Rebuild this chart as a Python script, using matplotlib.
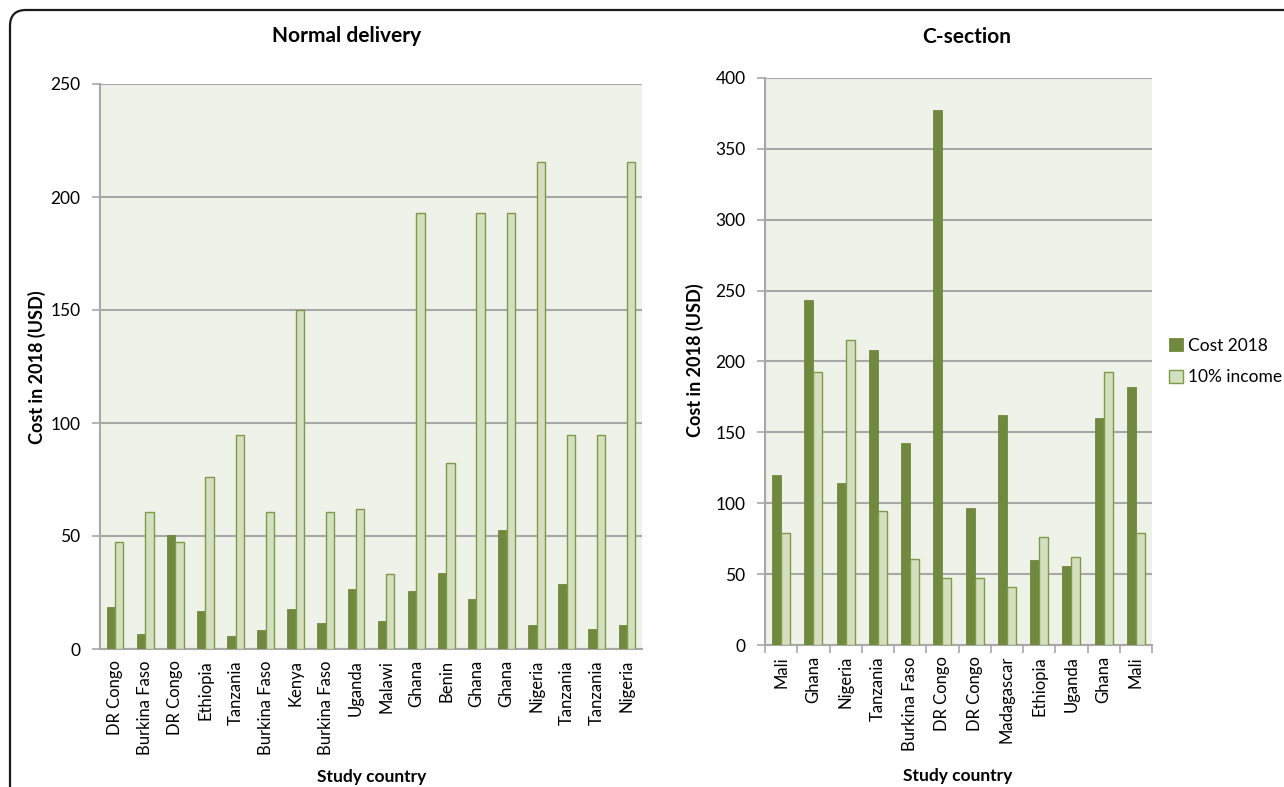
import matplotlib
matplotlib.use("Agg")
import numpy as np
import matplotlib.pyplot as plt
from matplotlib.patches import FancyBboxPatch
from matplotlib.transforms import IdentityTransform

plt.rcParams['font.family'] = ['Lato', 'DejaVu Sans']

# normal delivery
nd_countries = ["DR Congo", "Burkina Faso", "DR Congo", "Ethiopia", "Tanzania",
                "Burkina Faso", "Kenya", "Burkina Faso", "Uganda", "Malawi",
                "Ghana", "Benin", "Ghana", "Ghana", "Nigeria", "Tanzania",
                "Tanzania", "Nigeria"]
nd_cost = [18.6, 6.5, 50.4, 16.9, 5.8, 8.4, 17.8, 11.6, 26.4, 12.2,
           25.8, 33.8, 22.1, 52.8, 10.5, 28.8, 8.7, 10.8]
nd_income = [47.2, 60.6, 47.2, 76.1, 94.7, 60.6, 150.0, 60.6, 61.8, 33.0,
             192.7, 82.3, 192.7, 192.7, 215.5, 94.7, 94.7, 215.5]

# c-section
cs_countries = ["Mali", "Ghana", "Nigeria", "Tanzania", "Burkina Faso",
                "DR Congo", "DR Congo", "Madagascar", "Ethiopia", "Uganda",
                "Ghana", "Mali"]
cs_cost = [119.6, 243.3, 114.0, 208.2, 142.7, 377.6, 96.7, 162.0, 59.9,
           56.0, 160.0, 182.1]
cs_income = [79.0, 192.7, 215.5, 94.7, 60.6, 47.2, 47.2, 41.0, 76.1,
             61.8, 192.7, 79.0]

DARK = "#71893e"
LIGHT = "#d4dfbf"
LIGHT_EDGE = "#7d9b46"
BG = "#eff2e9"
GRID = "#a8a8a8"

fig = plt.figure(figsize=(12.84, 7.87), dpi=100)

# rounded outer frame
frame = FancyBboxPatch((10, -200), 1500, 977, boxstyle="round,pad=0,rounding_size=16",
                       transform=IdentityTransform(), fill=False,
                       edgecolor="#1a1a1a", linewidth=1.6)
fig.patches.append(frame)


def draw_panel(ax, names, cost, income, ymax, xticks_marks):
    x = np.arange(len(names))
    w = 0.28
    ax.bar(x - w / 2, cost, w, color=DARK, edgecolor=DARK, linewidth=0.6,
           label="Cost 2018", zorder=3)
    ax.bar(x + w / 2, income, w, color=LIGHT, edgecolor=LIGHT_EDGE, linewidth=1.0,
           label="10% income", zorder=3)
    ax.set_facecolor(BG)
    ax.set_xlim(-0.5, len(names) - 0.5)
    ax.set_ylim(0, ymax)
    ax.set_yticks(np.arange(0, ymax + 1, 50))
    ax.yaxis.grid(True, color=GRID, linewidth=1.5, zorder=0)
    ax.set_axisbelow(True)
    for s in ["top", "right"]:
        ax.spines[s].set_visible(False)
    for s in ["left", "bottom"]:
        ax.spines[s].set_color(GRID)
        ax.spines[s].set_linewidth(1.5)
    ax.set_xticks(x)
    ax.set_xticklabels(names, rotation=90, fontsize=12)
    ax.tick_params(axis="y", labelsize=12.5, length=6, width=1.2, color=GRID, pad=8)
    if xticks_marks:
        ax.set_xticks(np.arange(-0.5, len(names)), minor=True)
        ax.tick_params(axis="x", which="major", length=0, pad=8)
        ax.tick_params(axis="x", which="minor", length=6, width=1.2, color=GRID)
    else:
        ax.tick_params(axis="x", length=0, pad=8)


ax1 = fig.add_axes([100 / 1284, 138 / 787, 542 / 1284, 565 / 787])
draw_panel(ax1, nd_countries, nd_cost, nd_income, 250, False)

ax2 = fig.add_axes([765 / 1284, 142 / 787, 387 / 1284, 567 / 787])
draw_panel(ax2, cs_countries, cs_cost, cs_income, 400, True)

ax2.legend(loc="center left", bbox_to_anchor=(1.0, 0.5), frameon=False,
           fontsize=12.5, handlelength=0.8, handleheight=0.8, handletextpad=0.3,
           labelspacing=0.9, borderaxespad=0.6)

# titles and axis labels
fig.text(347 / 1284, 1 - 36 / 787, "Normal delivery", ha="center", va="center",
         fontsize=15, fontweight="bold")
fig.text(967 / 1284, 1 - 37 / 787, "C-section", ha="center", va="center",
         fontsize=15, fontweight="bold")
fig.text(372 / 1284, 1 - 777 / 787, "Study country", ha="center", va="center",
         fontsize=12.5, fontweight="bold")
fig.text(958 / 1284, 1 - 776 / 787, "Study country", ha="center", va="center",
         fontsize=12.5, fontweight="bold")
fig.text(37 / 1284, 1 - 367 / 787, "Cost in 2018 (USD)", ha="center", va="center",
         rotation=90, fontsize=13, fontweight="bold")
fig.text(695 / 1284, 1 - 360 / 787, "Cost in 2018 (USD)", ha="center", va="center",
         rotation=90, fontsize=13, fontweight="bold")

fig.savefig("out.png", dpi=100)
